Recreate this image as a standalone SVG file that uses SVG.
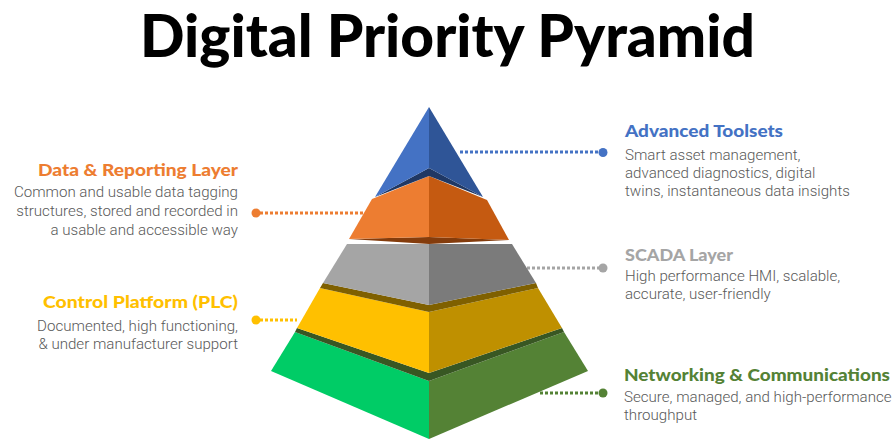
<svg xmlns="http://www.w3.org/2000/svg" width="895" height="439" viewBox="0 0 895 439">
  <style>
    .title { font-family: Lato, "Open Sans", "Liberation Sans", sans-serif; font-weight: 900; font-size: 59px; fill: #000; }
    .head { font-family: Lato, "Open Sans", "Liberation Sans", sans-serif; font-weight: 900; font-size: 17px; }
    .body { font-family: Roboto, "Liberation Sans", sans-serif; font-weight: 300; font-size: 15.1px; fill: #595959; }
    .end { text-anchor: end; }
    .lead { fill: none; stroke-width: 3; stroke-dasharray: 3 2; }
  </style>
  <rect width="895" height="439" fill="#ffffff"/>

  <text class="title" x="140" y="57" textLength="615" lengthAdjust="spacingAndGlyphs">Digital Priority Pyramid</text>

  <!-- leader lines with end dots -->
  <g id="connectors">
    <line class="lead" x1="460" y1="152" x2="600" y2="152" stroke="#4472c4"/>
    <circle cx="603" cy="152.5" r="4.5" fill="#4472c4"/>
    <line class="lead" x1="260" y1="213" x2="363" y2="213" stroke="#ed7d31"/>
    <circle cx="256" cy="213" r="4.5" fill="#ed7d31"/>
    <line class="lead" x1="527" y1="268" x2="600" y2="268" stroke="#a5a5a5"/>
    <circle cx="603" cy="268" r="4.5" fill="#a5a5a5"/>
    <line class="lead" x1="260" y1="320" x2="297" y2="320" stroke="#ffc000"/>
    <circle cx="256" cy="320" r="4.5" fill="#ffc000"/>
    <line class="lead" x1="540" y1="393" x2="600" y2="393" stroke="#548235"/>
    <circle cx="603" cy="393" r="4.5" fill="#548235"/>
  </g>

  <!-- pyramid tiers, bottom to top -->
  <g id="tier-networking">
    <polygon points="295,332 429,381 429,439 271,371" fill="#00cc66"/>
    <polygon points="564,332 429,381 429,439 588,371" fill="#548235"/>
    <polygon points="297,328 429,373 562,328 564,332 429,381 295,332" fill="#385723"/>
  </g>
  <g id="tier-control">
    <polygon points="320,288 429,312 429,373 297,328" fill="#ffc000"/>
    <polygon points="538,288 429,312 429,373 562,328" fill="#bf9000"/>
    <polygon points="323,283 429,305 536,283 538,288 429,312 320,288" fill="#7f6000"/>
  </g>
  <g id="tier-scada">
    <polygon points="347,244 429,244 429,305 323,283" fill="#a5a5a5"/>
    <polygon points="512,244 429,244 429,305 536,283" fill="#7b7b7b"/>
  </g>
  <g id="tier-data">
    <polygon points="349,239 429,237 509,240 429,244" fill="#843c0c"/>
    <polygon points="372,199 429,176 429,237 349,239" fill="#ed7d31"/>
    <polygon points="487,200 429,176 429,237 509,240" fill="#c55a11"/>
  </g>
  <g id="tier-advanced">
    <polygon points="375,197 429,168 483,197 429,176" fill="#203864"/>
    <polygon points="429,107 375,197 429,168" fill="#4472c4"/>
    <polygon points="429,107 483,197 429,168" fill="#2f5597"/>
  </g>

  <!-- labels -->
  <g id="label-data">
    <text class="head end" x="238" y="176" fill="#ed7d31" textLength="200" lengthAdjust="spacingAndGlyphs">Data &amp; Reporting Layer</text>
    <text class="body end" x="238" y="197">Common and usable data tagging</text>
    <text class="body end" x="238" y="216">structures, stored and recorded in</text>
    <text class="body end" x="238" y="235">a usable and accessible way</text>
  </g>
  <g id="label-control">
    <text class="head end" x="238" y="308" fill="#ffc000" textLength="195" lengthAdjust="spacingAndGlyphs">Control Platform (PLC)</text>
    <text class="body end" x="238" y="331">Documented, high functioning,</text>
    <text class="body end" x="238" y="349">&amp; under manufacturer support</text>
  </g>
  <g id="label-advanced">
    <text class="head" x="625" y="137" fill="#4472c4" textLength="158" lengthAdjust="spacingAndGlyphs">Advanced Toolsets</text>
    <text class="body" x="625" y="160">Smart asset management,</text>
    <text class="body" x="625" y="178">advanced diagnostics, digital</text>
    <text class="body" x="625" y="196">twins, instantaneous data insights</text>
  </g>
  <g id="label-scada">
    <text class="head" x="625" y="261" fill="#a5a5a5" textLength="108" lengthAdjust="spacingAndGlyphs">SCADA Layer</text>
    <text class="body" x="625" y="281">High performance HMI, scalable,</text>
    <text class="body" x="625" y="299">accurate, user-friendly</text>
  </g>
  <g id="label-networking">
    <text class="head" x="624" y="381" fill="#548235" textLength="266" lengthAdjust="spacingAndGlyphs">Networking &amp; Communications</text>
    <text class="body" x="624" y="402">Secure, managed, and high-performance</text>
    <text class="body" x="624" y="420">throughput</text>
  </g>
</svg>
